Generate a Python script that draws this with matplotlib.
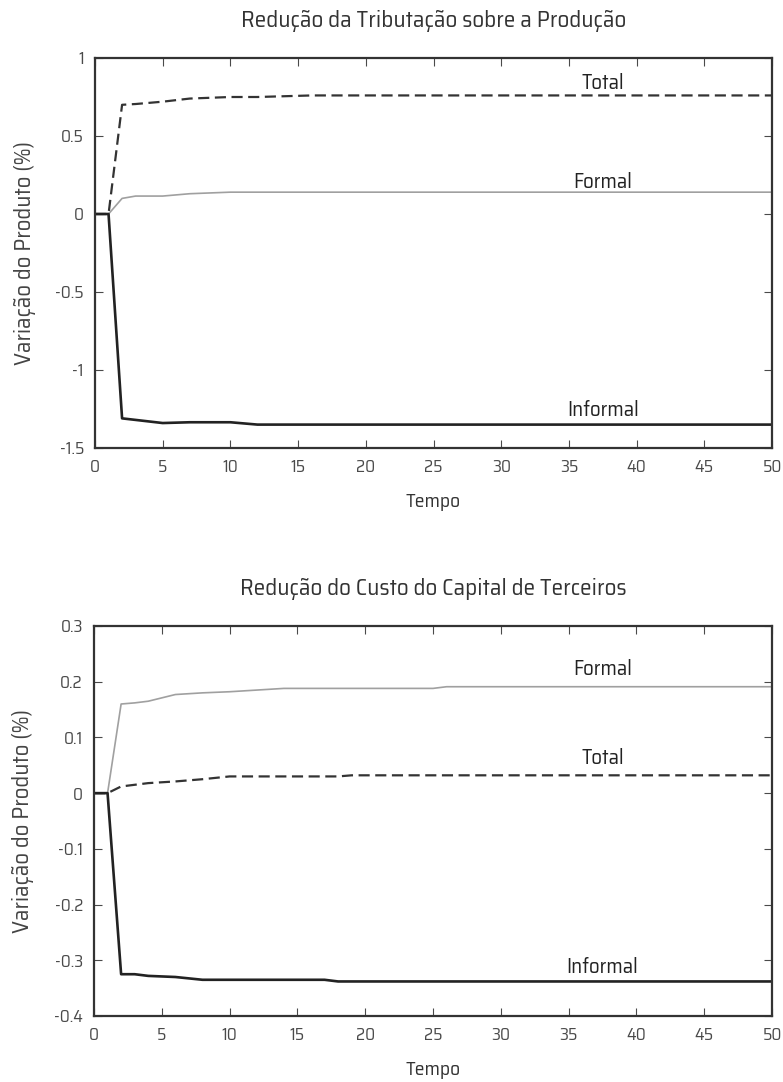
import matplotlib
matplotlib.use('Agg')
import matplotlib.pyplot as plt
import matplotlib.ticker as ticker
from matplotlib import font_manager

# ---- dados: painel superior (tributação sobre a produção)
t1 = [0, 1, 2, 3, 5, 7, 10, 12, 16, 50]
total1 = [0, 0, 0.70, 0.705, 0.72, 0.74, 0.75, 0.75, 0.76, 0.76]
formal1 = [0, 0, 0.10, 0.115, 0.115, 0.13, 0.14, 0.14, 0.14, 0.14]
informal1 = [0, 0, -1.31, -1.32, -1.34, -1.335, -1.335, -1.35, -1.35, -1.35]

# ---- dados: painel inferior (custo do capital de terceiros)
t2 = [0, 1, 2, 3, 4, 6, 8, 10, 14, 17, 18, 19, 25, 26, 50]
formal2 = [0, 0, 0.16, 0.162, 0.165, 0.177, 0.18, 0.182, 0.188, 0.188, 0.188, 0.188, 0.188, 0.191, 0.191]
total2 = [0, 0, 0.012, 0.015, 0.018, 0.021, 0.025, 0.03, 0.03, 0.03, 0.03, 0.032, 0.032, 0.032, 0.032]
informal2 = [0, 0, -0.325, -0.325, -0.328, -0.33, -0.335, -0.335, -0.335, -0.335, -0.338, -0.338, -0.338, -0.338, -0.338]

titles = ['Redução da Tributação sobre a Produção', 'Redução do Custo do Capital de Terceiros']
ylims = [(-1.5, 1), (-0.4, 0.3)]
ysteps = [0.5, 0.1]
labels_pos = [((37.5, 0.84), (37.5, 0.205), (37.5, -1.255)),
              ((37.5, 0.063), (37.5, 0.223), (37.5, -0.312))]

names = set(f.name for f in font_manager.fontManager.ttflist)
fams = [f for f in ['Saira SemiCondensed', 'Saira Condensed', 'Roboto Condensed', 'DejaVu Sans'] if f in names]
plt.rcParams['font.family'] = fams

fig = plt.figure(figsize=(7.83, 10.82), dpi=100)
ax1 = fig.add_axes([95 / 783, 1 - 448 / 1082, 677 / 783, 390 / 1082])
ax2 = fig.add_axes([94 / 783, 1 - 1016 / 1082, 678 / 783, 390 / 1082])

data = [(t1, total1, formal1, informal1), (t2, total2, formal2, informal2)]

for i, ax in enumerate([ax1, ax2]):
    t, tot, frm, inf = data[i]
    ax.plot(t, frm, color='#a0a0a0', linewidth=1.2)
    ax.plot(t, tot, color='#333333', linewidth=1.6, linestyle=(0, (5, 2.5)))
    ax.plot(t, inf, color='#222222', linewidth=1.9)
    ax.set_xlim(0, 50)
    ax.set_ylim(*ylims[i])
    ax.xaxis.set_major_locator(ticker.MultipleLocator(5))
    ax.yaxis.set_major_locator(ticker.MultipleLocator(ysteps[i]))
    ax.yaxis.set_major_formatter(ticker.FuncFormatter(lambda v, p: ('%g' % round(v, 2))))
    ax.tick_params(direction='in', top=True, right=True, length=6, width=0.8,
                   labelsize=12.5, colors='#4a4a4a', pad=8)
    for s in ax.spines.values():
        s.set_linewidth(1.6)
        s.set_color('#333333')
    ax.text(0.5, 1 + 37 / 390, titles[i], transform=ax.transAxes, ha='center', va='center',
            fontsize=16.7, color='#333333')
    ax.set_xlabel('Tempo', fontsize=14, color='#333333', labelpad=13)
    ax.set_ylabel('Variação do Produto (%)', fontsize=16.5, color='#444444', labelpad=14)
    (xt, yt), (xf, yf), (xi, yi) = labels_pos[i]
    ax.text(xt, yt, 'Total', ha='center', va='center', fontsize=15, color='#222222')
    ax.text(xf, yf, 'Formal', ha='center', va='center', fontsize=15, color='#222222')
    ax.text(xi, yi, 'Informal', ha='center', va='center', fontsize=15, color='#222222')

fig.savefig('out.png', dpi=100)
